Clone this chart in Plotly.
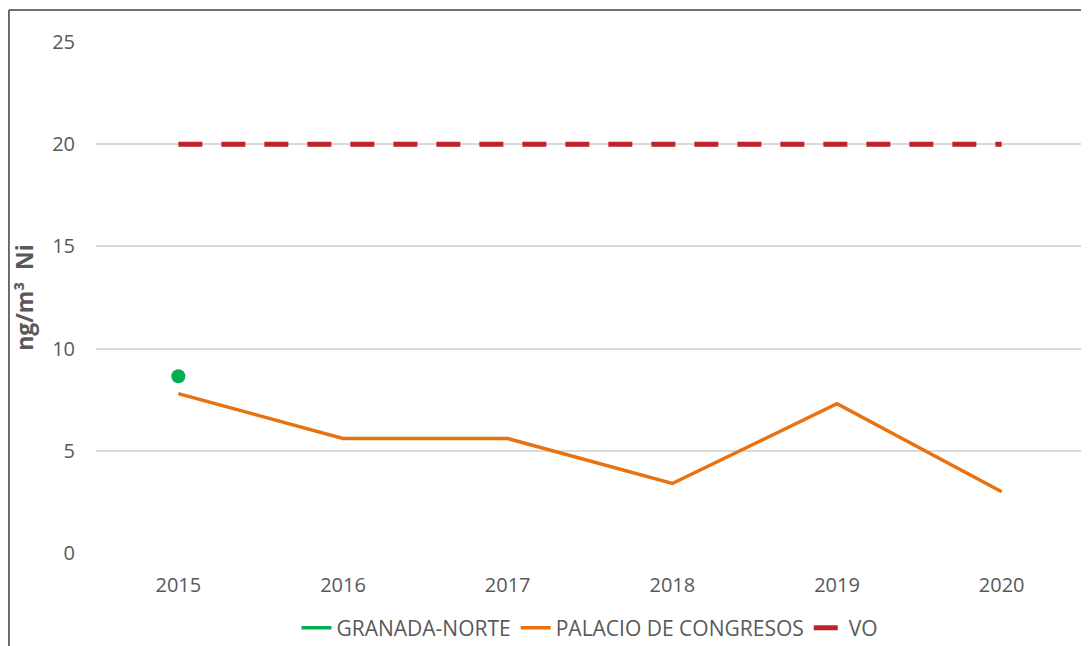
import plotly.graph_objects as go

years = ["2015", "2016", "2017", "2018", "2019", "2020"]
granada_norte = [8.65, None, None, None, None, None]
palacio = [7.8, 5.6, 5.6, 3.4, 7.3, 3.0]
vo = [20, 20, 20, 20, 20, 20]

font_family = "Open Sans, Liberation Sans, sans-serif"
grey = "#595959"

fig = go.Figure()
# legend entry (line only) for GRANADA-NORTE
fig.add_trace(go.Scatter(
    x=years, y=granada_norte, name="GRANADA-NORTE", mode="lines",
    line=dict(color="#00B050", width=3.5), legendgroup="gn",
))
# the single measured point
fig.add_trace(go.Scatter(
    x=years, y=granada_norte, name="GRANADA-NORTE", mode="markers",
    marker=dict(color="#00B050", size=14, symbol="circle"),
    showlegend=False, legendgroup="gn",
))
fig.add_trace(go.Scatter(
    x=years, y=palacio, name="PALACIO DE CONGRESOS", mode="lines",
    line=dict(color="#E8720F", width=3.5),
))
fig.add_trace(go.Scatter(
    x=years, y=vo, name="VO", mode="lines",
    line=dict(color="#C0222A", width=5, dash="24px,19px"),
))

# page has an 8px body margin: figure is sized/placed to compensate
fig.update_layout(
    width=1081, height=638,
    margin=dict(l=88, r=5, t=34, b=93, autoexpand=False),
    paper_bgcolor="white", plot_bgcolor="white",
    font=dict(family=font_family, color=grey, size=20),
    showlegend=True,
    legend=dict(orientation="h", x=0.5, xanchor="center", y=-0.147, yanchor="middle",
                font=dict(size=21, color=grey), tracegroupgap=0),
    xaxis=dict(type="category", range=[-0.5, 5.5], showgrid=False, showline=False,
               zeroline=False, ticks="", ticklabelstandoff=18, automargin=False,
               tickfont=dict(size=20, color=grey)),
    yaxis=dict(range=[0, 25], dtick=5, showgrid=True, gridcolor="#D9D9D9", gridwidth=1.5,
               zeroline=False, showline=False, ticks="", ticklabelstandoff=20, automargin=False,
               tickfont=dict(size=20, color=grey),
               title=dict(text="<b>ng/m³  Ni</b>", font=dict(size=23, color=grey), standoff=21)),
    shapes=[
        dict(type="line", xref="paper", yref="paper", x0=-0.0881, x1=1.01, y0=1.0626, y1=1.0626,
             line=dict(color="#404040", width=1.5)),
        dict(type="line", xref="paper", yref="paper", x0=-0.0881, x1=-0.0881, y0=1.0626, y1=-0.2,
             line=dict(color="#404040", width=1.5)),
    ],
)

fig.write_html("out.html")
